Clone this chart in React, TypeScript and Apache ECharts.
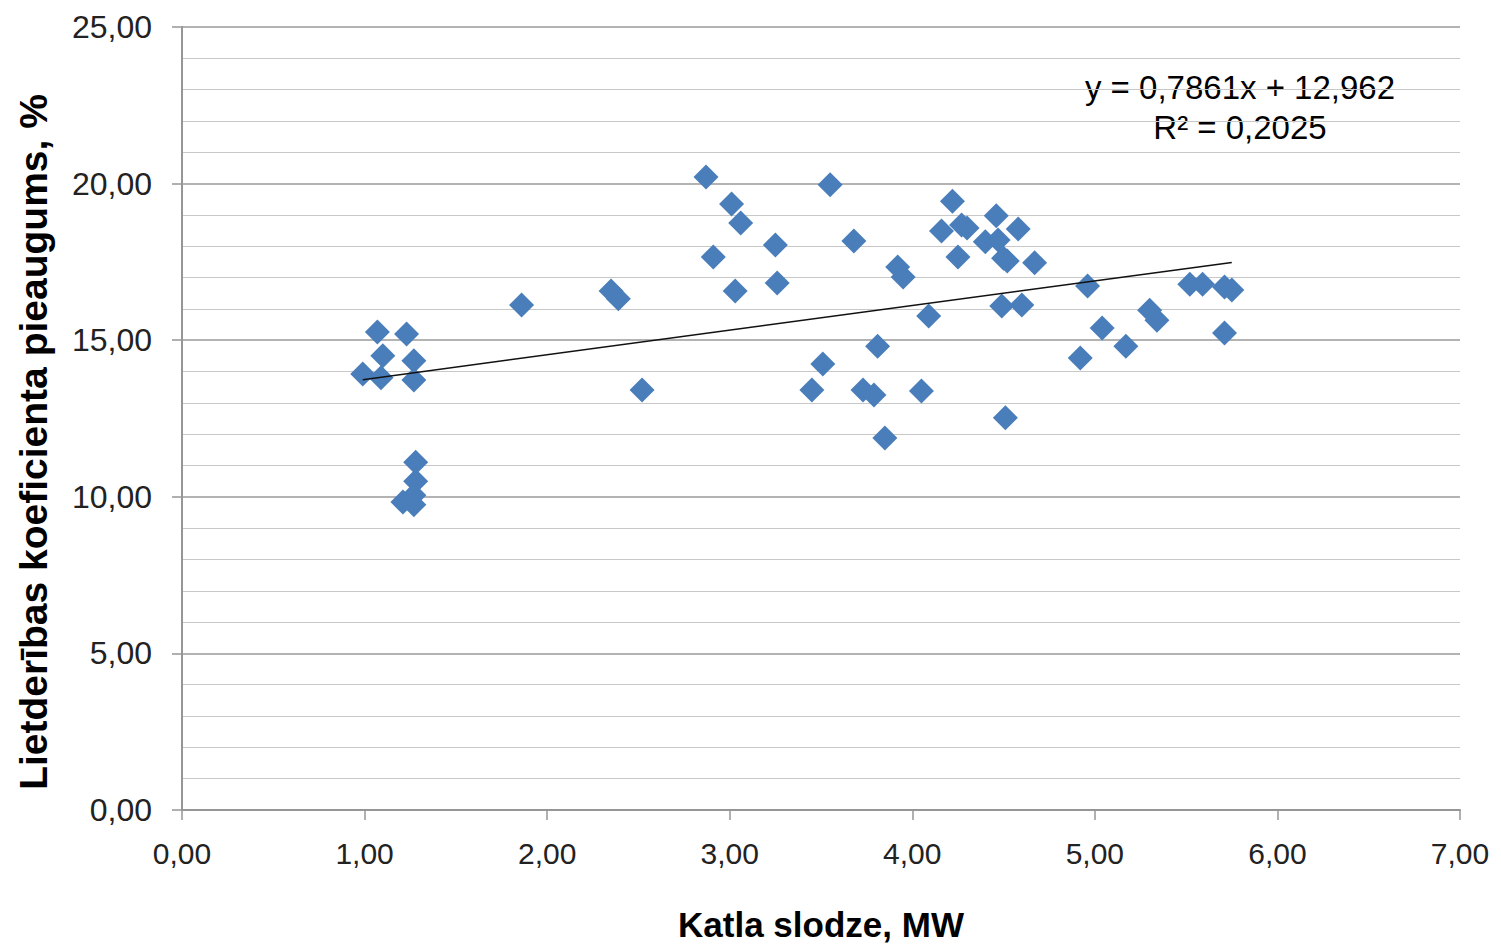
import React, { useEffect, useRef } from "react";
import * as echarts from "echarts";

const xValues = [
  0.99, 1.07, 1.1, 1.09, 1.23, 1.27, 1.27, 1.28, 1.28, 1.27, 1.21, 1.27,
  1.86, 2.35, 2.39, 2.52, 2.87, 2.91, 3.01, 3.06, 3.03, 3.25, 3.26,
  3.45, 3.51, 3.55, 3.68, 3.73, 3.79, 3.81, 3.85, 3.92, 3.95, 4.09, 4.05,
  4.16, 4.22, 4.25, 4.27, 4.3, 4.4, 4.46, 4.47, 4.5, 4.52, 4.49, 4.51,
  4.58, 4.6, 4.67, 4.92, 4.96, 5.04, 5.17, 5.3, 5.34, 5.52, 5.59, 5.71,
  5.75, 5.71,
];
const yValues = [
  13.92, 15.26, 14.5, 13.8, 15.2, 14.34, 13.73, 11.1, 10.5, 10.05, 9.83, 9.75,
  16.12, 16.57, 16.32, 13.41, 20.21, 17.66, 19.35, 18.74, 16.57, 18.04, 16.83,
  13.41, 14.24, 19.96, 18.17, 13.41, 13.25, 14.81, 11.88, 17.34, 17.02, 15.77, 13.38,
  18.49, 19.44, 17.66, 18.68, 18.58, 18.14, 18.97, 18.2, 17.62, 17.53, 16.09, 12.52,
  18.55, 16.12, 17.47, 14.43, 16.73, 15.39, 14.81, 15.96, 15.64, 16.79, 16.79, 16.7,
  16.6, 15.23,
];

const slope = 0.7861;
const intercept = 12.962;
const equationLines = ["y = 0,7861x + 12,962", "R² = 0,2025"];
const xAxisTitle = "Katla slodze, MW";
const yAxisTitle = "Lietderības koeficienta pieaugums, %";

const fmt = (v: number) => v.toFixed(2).replace(".", ",");

export default function App() {
  const ref = useRef<HTMLDivElement>(null);
  useEffect(() => {
    if (!ref.current) return;
    const chart = echarts.init(ref.current, undefined, { renderer: "svg" });
    const points = xValues.map((x, i) => [x, yValues[i]]);
    const xMin = Math.min(...xValues);
    const xMax = Math.max(...xValues);
    const trend = [
      [xMin, slope * xMin + intercept],
      [xMax, slope * xMax + intercept],
    ];
    const font = "Liberation Sans, Arial, sans-serif";
    chart.setOption({
      animation: false,
      backgroundColor: "#ffffff",
      grid: {
        left: 182,
        right: 41,
        top: 27,
        bottom: 138,
        containLabel: false,
        outerBoundsMode: "none",
      },
      xAxis: {
        type: "value",
        min: 0,
        max: 7,
        interval: 1,
        name: xAxisTitle,
        nameLocation: "middle",
        nameGap: 97,
        nameTextStyle: { fontFamily: font, fontSize: 35, fontWeight: "bold", color: "#000" },
        axisLine: { show: true, lineStyle: { color: "#969696", width: 2 } },
        axisTick: { show: true, length: 10, lineStyle: { color: "#969696", width: 1.5 } },
        axisLabel: { formatter: fmt, fontFamily: font, fontSize: 30, color: "#222", margin: 28 },
        splitLine: { show: false },
      },
      yAxis: {
        type: "value",
        min: 0,
        max: 25,
        interval: 5,
        axisLine: { show: true, lineStyle: { color: "#969696", width: 2 } },
        axisTick: { show: true, length: 10, lineStyle: { color: "#969696", width: 1.5 } },
        axisLabel: { formatter: fmt, fontFamily: font, fontSize: 32, color: "#222", margin: 30 },
        splitLine: { show: true, lineStyle: { color: "#9a9a9a", width: 1.5 } },
        minorTick: { show: false, splitNumber: 5 },
        minorSplitLine: { show: true, lineStyle: { color: "#c8c8c8", width: 1.2 } },
      },
      graphic: [
        {
          type: "text",
          x: 33,
          y: 442,
          rotation: Math.PI / 2,
          style: {
            text: yAxisTitle,
            fontFamily: font,
            fontSize: 39,
            fontWeight: "bold",
            fill: "#000",
            textAlign: "center",
            textVerticalAlign: "middle",
          },
        },
        {
          type: "text",
          x: 1240,
          y: 87,
          style: {
            text: equationLines[0],
            fontFamily: font,
            fontSize: 33,
            fill: "#000",
            textAlign: "center",
            textVerticalAlign: "middle",
          },
        },
        {
          type: "text",
          x: 1240,
          y: 127,
          style: {
            text: equationLines[1],
            fontFamily: font,
            fontSize: 33,
            fill: "#000",
            textAlign: "center",
            textVerticalAlign: "middle",
          },
        },
      ],
      series: [
        {
          type: "scatter",
          data: points,
          symbol: "diamond",
          symbolSize: 25,
          itemStyle: { color: "#4a7ebb", opacity: 1 },
          z: 3,
        },
        {
          type: "line",
          data: trend,
          symbol: "none",
          lineStyle: { color: "#111", width: 1.5 },
          z: 4,
        },
      ],
    });
    return () => chart.dispose();
  }, []);
  return (
    <div
      ref={ref}
      style={{ position: "absolute", left: 0, top: 0, width: 1501, height: 948 }}
    />
  );
}
